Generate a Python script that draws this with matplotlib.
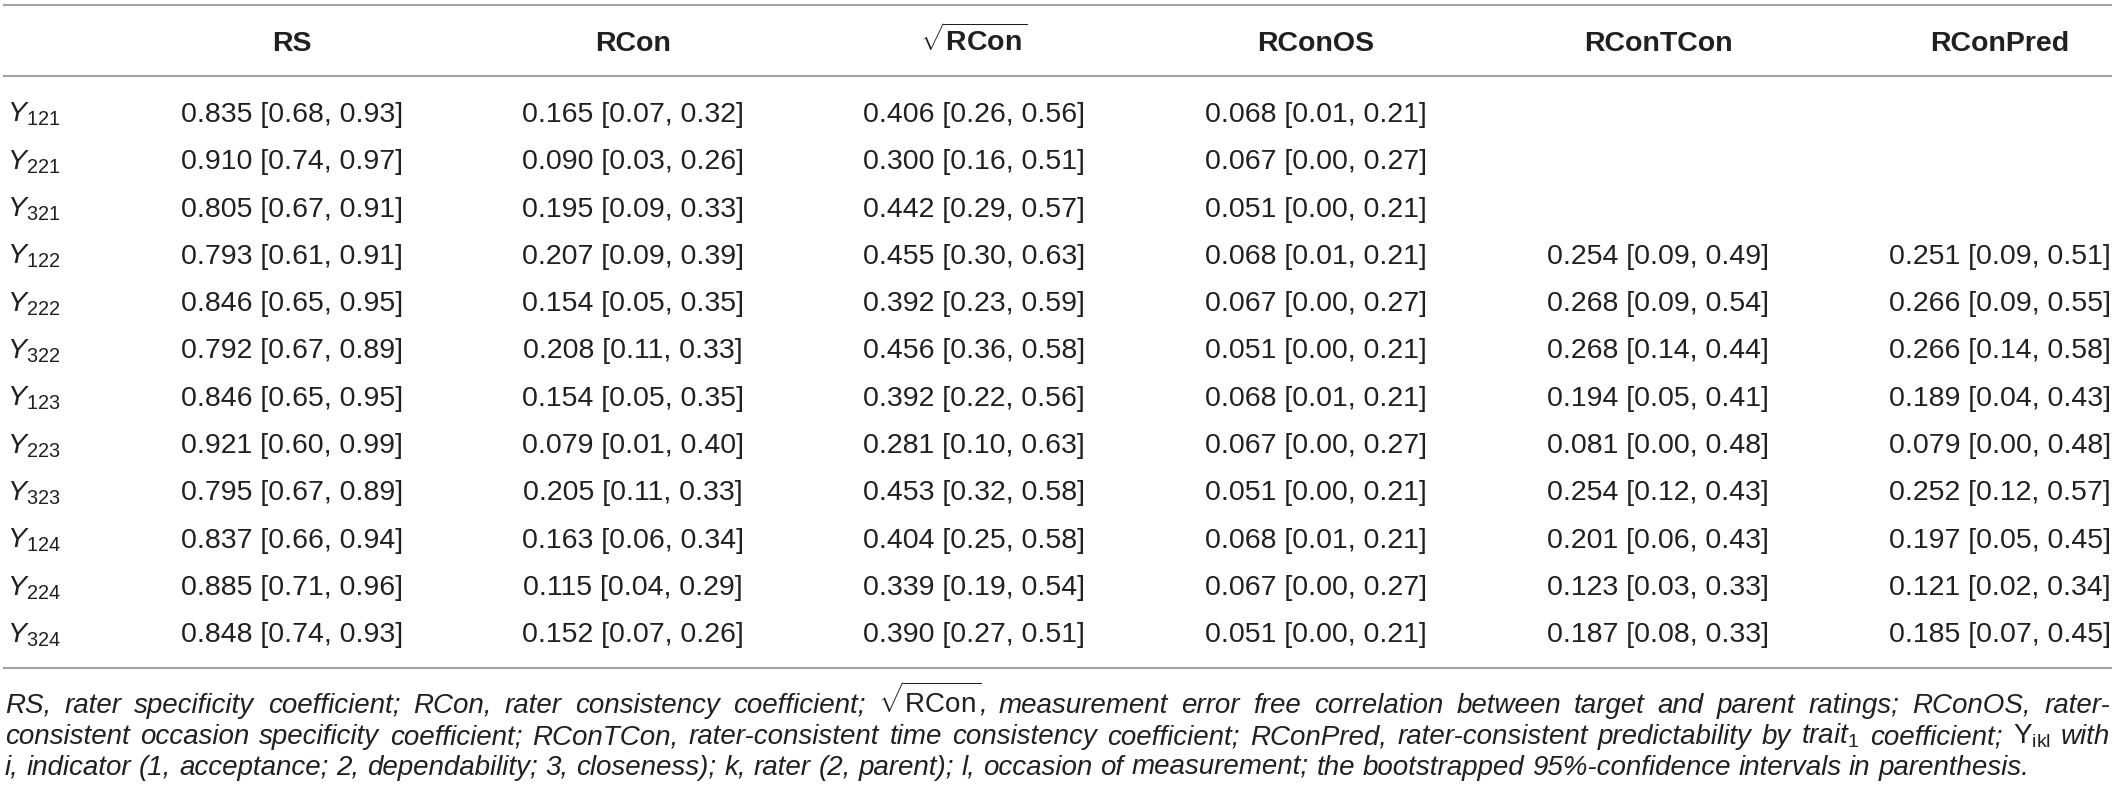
import matplotlib
matplotlib.use("Agg")
import matplotlib.pyplot as plt
from matplotlib import font_manager

# ---------------- data ----------------
row_subscripts = ["121", "221", "321", "122", "222", "322",
                  "123", "223", "323", "124", "224", "324"]

columns = ["RS", "RCon", "sqrtRCon", "RConOS", "RConTCon", "RConPred"]

RS = [(0.835, 0.68, 0.93), (0.910, 0.74, 0.97), (0.805, 0.67, 0.91),
      (0.793, 0.61, 0.91), (0.846, 0.65, 0.95), (0.792, 0.67, 0.89),
      (0.846, 0.65, 0.95), (0.921, 0.60, 0.99), (0.795, 0.67, 0.89),
      (0.837, 0.66, 0.94), (0.885, 0.71, 0.96), (0.848, 0.74, 0.93)]
RCon = [(0.165, 0.07, 0.32), (0.090, 0.03, 0.26), (0.195, 0.09, 0.33),
        (0.207, 0.09, 0.39), (0.154, 0.05, 0.35), (0.208, 0.11, 0.33),
        (0.154, 0.05, 0.35), (0.079, 0.01, 0.40), (0.205, 0.11, 0.33),
        (0.163, 0.06, 0.34), (0.115, 0.04, 0.29), (0.152, 0.07, 0.26)]
sqrtRCon = [(0.406, 0.26, 0.56), (0.300, 0.16, 0.51), (0.442, 0.29, 0.57),
            (0.455, 0.30, 0.63), (0.392, 0.23, 0.59), (0.456, 0.36, 0.58),
            (0.392, 0.22, 0.56), (0.281, 0.10, 0.63), (0.453, 0.32, 0.58),
            (0.404, 0.25, 0.58), (0.339, 0.19, 0.54), (0.390, 0.27, 0.51)]
RConOS = [(0.068, 0.01, 0.21), (0.067, 0.00, 0.27), (0.051, 0.00, 0.21),
          (0.068, 0.01, 0.21), (0.067, 0.00, 0.27), (0.051, 0.00, 0.21),
          (0.068, 0.01, 0.21), (0.067, 0.00, 0.27), (0.051, 0.00, 0.21),
          (0.068, 0.01, 0.21), (0.067, 0.00, 0.27), (0.051, 0.00, 0.21)]
RConTCon = [None, None, None,
            (0.254, 0.09, 0.49), (0.268, 0.09, 0.54), (0.268, 0.14, 0.44),
            (0.194, 0.05, 0.41), (0.081, 0.00, 0.48), (0.254, 0.12, 0.43),
            (0.201, 0.06, 0.43), (0.123, 0.03, 0.33), (0.187, 0.08, 0.33)]
RConPred = [None, None, None,
            (0.251, 0.09, 0.51), (0.266, 0.09, 0.55), (0.266, 0.14, 0.58),
            (0.189, 0.04, 0.43), (0.079, 0.00, 0.48), (0.252, 0.12, 0.57),
            (0.197, 0.05, 0.45), (0.121, 0.02, 0.34), (0.185, 0.07, 0.45)]

header_labels = ["RS", "RCon", r"$\sqrt{\mathbf{RCon}}$", "RConOS", "RConTCon", "RConPred"]

footnote_lines = [
    r"RS, rater specificity coefficient; RCon, rater consistency coefficient; $\sqrt{\mathrm{RCon}}$, "
    r"measurement error free correlation between target and parent ratings; RConOS, rater-",
    r"consistent occasion specificity coefficient; RConTCon, rater-consistent time consistency coefficient; "
    r"RConPred, rater-consistent predictability by trait$_{\mathrm{1}}$ coefficient; $\mathrm{Y}_{\mathrm{ikl}}$ with",
    r"i, indicator (1, acceptance; 2, dependability; 3, closeness); k, rater (2, parent); l, occasion of "
    r"measurement; the bootstrapped 95%-confidence intervals in parenthesis.",
]

# ---------------- style ----------------
available = {f.name for f in font_manager.fontManager.ttflist}
FONT = "Liberation Sans" if "Liberation Sans" in available else "DejaVu Sans"
plt.rcParams["font.family"] = [FONT, "DejaVu Sans"]
plt.rcParams["mathtext.fontset"] = "custom"
plt.rcParams["mathtext.rm"] = FONT
plt.rcParams["mathtext.it"] = FONT + ":italic"
plt.rcParams["mathtext.bf"] = FONT + ":bold"

TXT = "#231f20"
LINE = "#a3a3a3"
W, H = 2118, 799
FS = 20.5
FS_FOOT = 20.0

fig = plt.figure(figsize=(W / 100, H / 100), dpi=100)
ax = fig.add_axes([0, 0, 1, 1])
ax.set_xlim(0, W)
ax.set_ylim(H, 0)
ax.axis("off")

col_x = [292, 633, 974, 1316, 1658, 2000]
x_left, x_right = 3, 2112

# rules
for yl in (5, 76, 668):
    ax.plot([x_left, x_right], [yl, yl], color=LINE, lw=1.5, solid_capstyle="butt")

# header
for cx, lab in zip(col_x, header_labels):
    ax.text(cx, 51, lab, ha="center", va="baseline", fontsize=FS,
            fontweight="bold", color=TXT)

# body
data_cols = [RS, RCon, sqrtRCon, RConOS, RConTCon, RConPred]
base0, dy = 122, 47.3
for i, sub in enumerate(row_subscripts):
    yb = base0 + i * dy
    ax.text(7, yb, r"$\mathit{Y}_{\mathrm{%s}}$" % sub, ha="left", va="baseline",
            fontsize=FS, color=TXT)
    for cx, col in zip(col_x, data_cols):
        v = col[i]
        if v is None:
            continue
        est, lo, hi = v
        ax.text(cx, yb, f"{est:.3f} [{lo:.2f}, {hi:.2f}]", ha="center",
                va="baseline", fontsize=FS, color=TXT)

# footnote (justified)
renderer = fig.canvas.get_renderer()
foot_base = [713, 744, 775]


def width_of(t):
    return t.get_window_extent(renderer=renderer).width


probe1 = ax.text(0, 0, "a a", fontsize=FS_FOOT, style="italic")
probe2 = ax.text(0, 0, "aa", fontsize=FS_FOOT, style="italic")
space_w = width_of(probe1) - width_of(probe2)
probe1.remove()
probe2.remove()

for li, (line, yb) in enumerate(zip(footnote_lines, foot_base)):
    words = line.split(" ")
    texts = [ax.text(0, yb, w, ha="left", va="baseline", fontsize=FS_FOOT,
                     style="italic", color=TXT) for w in words]
    widths = [width_of(t) for t in texts]
    if li < len(footnote_lines) - 1:
        gap = (x_right - 4 - x_left - sum(widths)) / (len(words) - 1)
        gap = max(gap, 0.5 * space_w)
    else:
        gap = space_w
    x = x_left + 2
    for t, w in zip(texts, widths):
        t.set_x(x)
        x += w + gap

fig.savefig("out.png", dpi=100)
